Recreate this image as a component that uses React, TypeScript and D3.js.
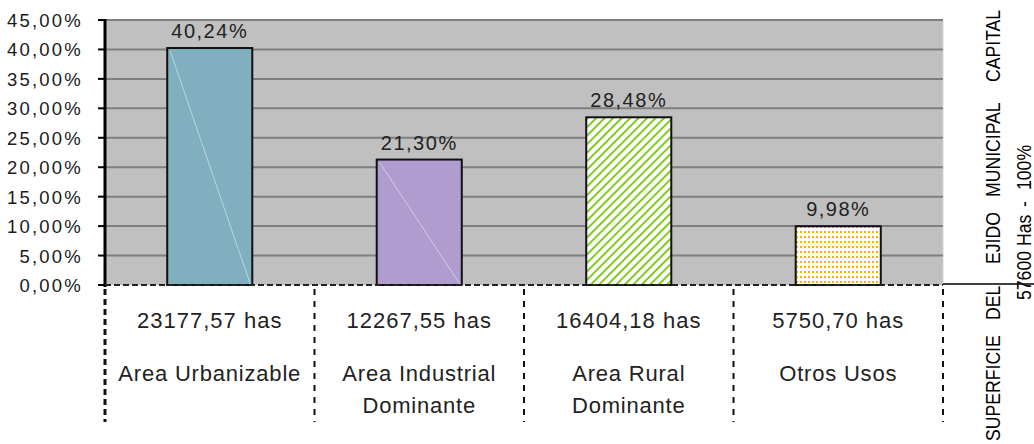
import React from 'react';
import * as d3 from 'd3';

const width = 1034;
const height = 444;
const margin = { top: 20, right: 91, bottom: 159, left: 105 };

const categories = ['Area Urbanizable', 'Area Industrial Dominante', 'Area Rural Dominante', 'Otros Usos'];
const nameLines = [['Area Urbanizable'], ['Area Industrial', 'Dominante'], ['Area Rural', 'Dominante'], ['Otros Usos']];
const values = [40.24, 21.3, 28.48, 9.98];
const hectares = ['23177,57 has', '12267,55 has', '16404,18 has', '5750,70 has'];
const yTicks = [0, 5, 10, 15, 20, 25, 30, 35, 40, 45];
const fills = ['#80b0c0', '#b09ccf', 'url(#hatch)', 'url(#dots)'];
const sideWords = ['SUPERFICIE', 'DEL', 'EJIDO', 'MUNICIPAL', 'CAPITAL'];
const sideWordStarts = [441, 320, 264, 197, 82];
const totalParts = ['57600 Has', '-', '100%'];
const totalStarts = [300, 207, 190];

const locale = d3.formatLocale({ decimal: ',', thousands: '.', grouping: [3], currency: ['', ''] });
const pct = locale.format(',.2f');

const font = '"Liberation Sans", Arial, sans-serif';

export default function App() {
  const x0 = margin.left;
  const x1 = width - margin.right;
  const y0 = height - margin.bottom;

  const x = d3.scaleBand<string>().domain(categories).range([x0, x1]).paddingInner(0.594).paddingOuter(0.297);
  const y = d3.scaleLinear().domain([0, 45]).range([y0, margin.top]);
  const step = x.step();
  const seps = d3.range(categories.length + 1).map(i => x0 + i * step);

  return (
    <svg width={width} height={height} style={{ position: 'absolute', left: 0, top: 0, background: '#fff' }} fontFamily={font}>
      <defs>
        <pattern id="hatch" patternUnits="userSpaceOnUse" width={6} height={6} patternTransform="rotate(45)">
          <rect width={6} height={6} fill="#fff" />
          <line x1={1} y1={0} x2={1} y2={6} stroke="#80cc1c" strokeWidth={2} />
        </pattern>
        <pattern id="dots" patternUnits="userSpaceOnUse" width={4} height={5}>
          <rect width={4} height={5} fill="#fffdf4" />
          <rect x={0} y={1} width={2} height={2} fill="#f5b400" />
        </pattern>
      </defs>

      {/* plot area */}
      <rect x={x0} y={margin.top} width={x1 - x0} height={y0 - margin.top} fill="#c0c0c0" />
      <line x1={x1} x2={x1} y1={margin.top} y2={y0} stroke="#d4d4d4" strokeWidth={1} />
      {yTicks.filter(t => t > 0).map(t => (
        <line key={t} x1={x0} x2={x1} y1={y(t)} y2={y(t)} stroke="#7f7f7f" strokeWidth={2} />
      ))}

      {/* bars */}
      {categories.map((c, i) => {
        const bx = x(c)!;
        const by = y(values[i]);
        const bw = x.bandwidth();
        return (
          <g key={c}>
            <rect x={bx} y={by} width={bw} height={y0 - by} fill={fills[i]} stroke="#111" strokeWidth={2} />
            {i < 2 && (
              <line x1={bx + 3} y1={by + 3} x2={bx + bw - 2} y2={y0 - 1} stroke="#ffffff" strokeOpacity={0.45} strokeWidth={1} />
            )}
            <text x={bx + bw / 2} y={by - 10} textAnchor="middle" fontSize={20} letterSpacing={1.5} fill="#222">
              {pct(values[i])}%
            </text>
          </g>
        );
      })}

      {/* y axis */}
      <line x1={x0} x2={x0} y1={margin.top - 1} y2={y0 + 2} stroke="#000" strokeWidth={3} />
      {yTicks.map(t => (
        <g key={t}>
          <line x1={x0 - 7} x2={x0} y1={y(t)} y2={y(t)} stroke="#000" strokeWidth={2} />
          <text x={83} y={y(t) + 7} textAnchor="end" fontSize={18.5} letterSpacing={2.2} fill="#1a1a1a">
            {pct(t)}%
          </text>
        </g>
      ))}

      {/* baseline */}
      <line x1={x0} x2={x1} y1={y0} y2={y0} stroke="#222" strokeWidth={2} strokeDasharray="6 3" />
      <line x1={x1} x2={width} y1={y0 - 1} y2={y0 - 1} stroke="#000" strokeWidth={1.5} />

      {/* category table */}
      {seps.map((s, i) => (
        <line
          key={i}
          x1={s}
          x2={s}
          y1={y0 + 4}
          y2={422}
          stroke="#111"
          strokeWidth={i === 0 ? 3 : 2}
          strokeDasharray={i === 0 ? '6 4' : '6 6'}
        />
      ))}
      {categories.map((c, i) => {
        const cx = x(c)! + x.bandwidth() / 2;
        return (
          <g key={c} fontSize={22} fill="#222" textAnchor="middle">
            <text x={cx} y={328} letterSpacing={1}>{hectares[i]}</text>
            {nameLines[i].map((ln, j) => (
              <text key={j} x={cx} y={381 + j * 32} letterSpacing={0.8}>{ln}</text>
            ))}
          </g>
        );
      })}

      {/* side captions */}
      <g transform="translate(1000,0) rotate(-90)">
        <g transform="scale(0.84,1)">
          {sideWords.map((w, i) => (
            <text key={w} x={-sideWordStarts[i] / 0.84} y={0} fontSize={21} fill="#000">{w}</text>
          ))}
        </g>
      </g>
      <g transform="translate(1031,0) rotate(-90)">
        <g transform="scale(0.84,1)">
          {totalParts.map((w, i) => (
            <text key={w} x={-totalStarts[i] / 0.84} y={0} fontSize={21} fill="#000">{w}</text>
          ))}
        </g>
      </g>
    </svg>
  );
}
